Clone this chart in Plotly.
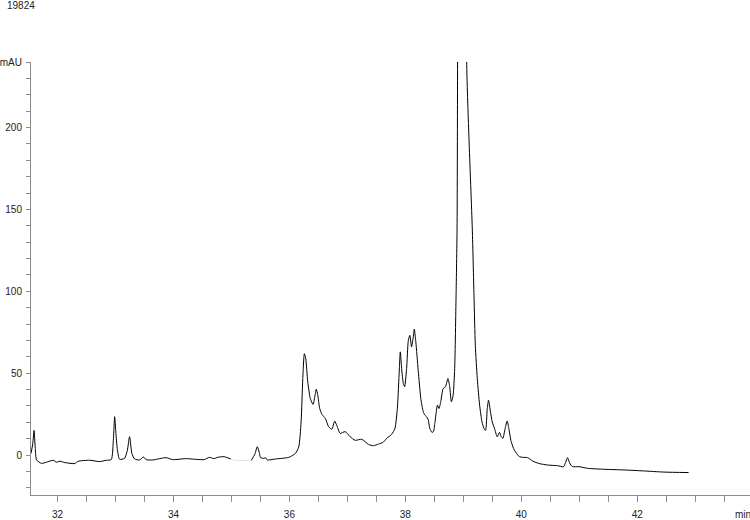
import plotly.graph_objects as go

# Retention time (min) and absorbance (mAU)
time_a = [31.543, 31.574, 31.595, 31.617, 31.639, 31.725, 31.806, 31.926, 31.983, 32.041,
          32.127, 32.299, 32.355, 32.556, 32.728, 32.841, 32.927, 32.965, 32.986, 33.008,
          33.030, 33.071, 33.157, 33.205, 33.243, 33.283, 33.329, 33.415, 33.484, 33.528,
          33.643, 33.872, 33.987, 34.215, 34.531, 34.617, 34.703, 34.759, 34.874, 34.988]
mau_a = [1.0, 7.1, 15.0, 4.1, -3.0, -5.1, -4.4, -3.2, -4.4, -3.8,
         -4.6, -5.2, -3.8, -3.2, -4.0, -3.2, -2.8, 10.2, 23.4, 13.2,
         4.1, -2.6, -2.0, 2.9, 11.2, 1.0, -2.4, -3.0, -1.2, -2.8,
         -3.0, -1.6, -2.8, -2.2, -2.8, -1.4, -2.2, -1.4, -1.0, -2.4]

# faint section of the trace
time_faint = [34.988, 35.046, 35.200, 35.343]
mau_faint = [-2.4, -3.2, -3.4, -3.2]

time_b = [35.343, 35.403, 35.446, 35.480, 35.503, 35.561, 35.592, 35.618, 35.760, 35.990,
          36.104, 36.162, 36.202, 36.231, 36.258, 36.282, 36.317, 36.361, 36.408, 36.442,
          36.464, 36.488, 36.523, 36.562, 36.619, 36.677, 36.734, 36.780, 36.820, 36.876,
          36.962, 37.048, 37.134, 37.249, 37.364, 37.450, 37.536, 37.622, 37.678, 37.764,
          37.821, 37.862, 37.889, 37.913, 37.936, 37.965, 37.987, 38.022, 38.051, 38.078,
          38.107, 38.137, 38.154, 38.181, 38.222, 38.267, 38.308, 38.336, 38.365, 38.394,
          38.422, 38.459, 38.485, 38.511, 38.537, 38.554, 38.580, 38.611, 38.652, 38.692,
          38.735, 38.765, 38.794, 38.824, 38.851, 38.875, 38.892, 38.901, 38.980, 39.057,
          39.098, 39.155, 39.184, 39.207, 39.241, 39.281, 39.322, 39.356, 39.384, 39.413,
          39.435, 39.464, 39.498, 39.538, 39.584, 39.624, 39.653, 39.682, 39.722, 39.756,
          39.785, 39.825, 39.881, 39.967, 40.025, 40.111, 40.197, 40.310, 40.455, 40.626,
          40.729, 40.765, 40.798, 40.829, 40.855, 40.884, 40.997, 41.141, 41.427, 41.770,
          42.113, 42.457, 42.886]
mau_b = [-3.2, 0.4, 5.1, 1.6, -1.6, -2.0, -1.7, -3.0, -2.4, -1.4,
         1.0, 5.1, 20.3, 46.7, 61.9, 58.9, 44.7, 34.5, 30.9, 36.5,
         40.2, 37.0, 28.4, 24.8, 22.4, 17.3, 15.8, 20.7, 17.9, 13.2,
         14.3, 11.2, 9.0, 9.6, 6.5, 5.7, 6.7, 7.9, 10.2, 12.6,
         16.3, 28.4, 46.7, 63.0, 52.8, 43.7, 41.7, 52.8, 69.9, 73.1,
         66.0, 72.1, 76.9, 69.1, 51.6, 34.5, 26.6, 24.4, 23.4, 21.7,
         16.3, 13.8, 14.4, 19.9, 27.4, 30.5, 28.4, 32.5, 40.6, 41.7,
         46.7, 41.8, 32.5, 36.5, 52.8, 97.4, 138.1, 241.6, 1500.0, 241.6,
         192.9, 138.1, 97.4, 67.0, 46.7, 30.5, 20.3, 16.3, 15.0, 28.4,
         33.5, 27.4, 20.3, 16.3, 11.2, 13.8, 11.2, 10.2, 16.3, 20.8,
         16.3, 8.2, 3.0, -1.0, -1.4, -1.6, -3.7, -5.2, -6.1, -6.5,
         -7.1, -4.4, -1.6, -4.4, -6.1, -7.1, -7.1, -8.1, -8.7, -9.1,
         -9.7, -10.4, -10.7]

x_tick_vals = [32, 34, 36, 38, 40, 42]
y_tick_vals = [0, 50, 100, 150, 200, 240]
y_tick_text = ["0", "50", "100", "150", "200", "mAU"]

x_all = time_a + [None] + time_b
y_all = mau_a + [None] + mau_b

fig = go.Figure()
fig.add_trace(go.Scatter(
    x=time_faint, y=mau_faint, mode="lines",
    line=dict(color="#e2e2e2", width=1, shape="spline", smoothing=0.6),
    hoverinfo="skip", showlegend=False,
))
fig.add_trace(go.Scatter(
    x=x_all, y=y_all, mode="lines",
    line=dict(color="black", width=1, shape="spline", smoothing=0.6),
    connectgaps=False, hoverinfo="skip", showlegend=False,
))

axis_col = "#8c8c8c"
font = dict(family="Liberation Sans, DejaVu Sans, sans-serif", size=10, color="#222222")

fig.update_layout(
    width=750, height=520,
    margin=dict(l=28, r=0, t=62, b=23),
    paper_bgcolor="white", plot_bgcolor="white",
    font=font,
    showlegend=False,
    xaxis=dict(
        range=[31.543, 43.945], showgrid=False, zeroline=False,
        showline=True, linecolor=axis_col, linewidth=1,
        ticks="outside", ticklen=6, tickcolor=axis_col, tickwidth=1,
        tickmode="array", tickvals=x_tick_vals,
        ticktext=[str(v) for v in x_tick_vals],
        minor=dict(dtick=0.5, tick0=32, ticks="outside", ticklen=6,
                   tickcolor=axis_col, tickwidth=1, showgrid=False),
        ticklabelstandoff=4,
        tickfont=font,
    ),
    yaxis=dict(
        range=[-24.4, 240], showgrid=False, zeroline=False,
        showline=True, linecolor=axis_col, linewidth=1,
        ticks="outside", ticklen=4, tickcolor=axis_col, tickwidth=1,
        tickmode="array", tickvals=y_tick_vals, ticktext=y_tick_text,
        minor=dict(dtick=10, tick0=0, ticks="outside", ticklen=4,
                   tickcolor=axis_col, tickwidth=1, showgrid=False),
        ticklabelstandoff=2,
        tickfont=font,
    ),
    annotations=[
        dict(text="19824", xref="paper", yref="paper", x=-0.036, y=1.131,
             xanchor="left", yanchor="middle", showarrow=False, font=font),
        dict(text="min", xref="paper", yref="paper", x=0.990, y=-0.046,
             xanchor="center", yanchor="middle", showarrow=False, font=font),
    ],
)

# remove the browser's default page margin so the figure sits at the window's corner
fig.write_html("out.html", config={"displayModeBar": False},
               post_script="document.body.style.margin='0';")
